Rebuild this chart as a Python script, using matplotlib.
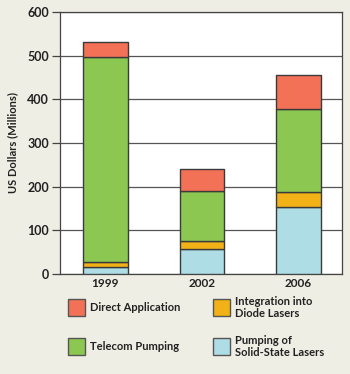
import matplotlib
matplotlib.use("Agg")
import matplotlib.pyplot as plt
from matplotlib.patches import Rectangle

plt.rcParams['font.family'] = ['Lato', 'DejaVu Sans']
plt.rcParams['font.weight'] = 'bold'
plt.rcParams['axes.labelweight'] = 'bold'

years = ['1999', '2002', '2006']
solid_state = [17, 58, 153]
diode = [11, 17, 35]
telecom = [468, 114, 190]
direct = [35, 52, 78]

series = [
    ('Pumping of\nSolid-State Lasers', solid_state, '#aedde6'),
    ('Integration into\nDiode Lasers', diode, '#f2b217'),
    ('Telecom Pumping', telecom, '#8cc751'),
    ('Direct Application', direct, '#f37157'),
]

bg = '#eeeee4'
edge = '#3a3a3a'

fig = plt.figure(figsize=(3.5, 3.74), dpi=100, facecolor=bg)
ax = fig.add_axes([60/350, 100/374, 282/350, 262/374])
ax.set_facecolor('white')

x = range(len(years))
bottom = [0] * len(years)
for name, vals, col in series:
    ax.bar(x, vals, width=0.46, bottom=bottom, color=col,
           edgecolor=edge, linewidth=1.0, zorder=3)
    bottom = [b + v for b, v in zip(bottom, vals)]

ax.set_xlim(-0.47, 2.45)
ax.set_ylim(0, 600)
ax.set_yticks(range(0, 601, 100))
ax.set_xticks(list(x))
ax.set_xticklabels(years)
ax.yaxis.grid(True, color='#555555', linewidth=0.9, zorder=1)
ax.tick_params(axis='y', length=6, width=0.9, color='#444444', pad=2,
               labelsize=9, labelcolor='#222222')
ax.tick_params(axis='x', length=0, pad=3, labelsize=8.5, labelcolor='#222222')
for s in ax.spines.values():
    s.set_color('#444444')
    s.set_linewidth(0.9)
ax.set_ylabel('US Dollars (Millions)', fontsize=8, color='#222222', labelpad=6)

# legend drawn as boxes + text in figure pixels
legend_pos = {
    'Direct Application': (68, 299),
    'Telecom Pumping': (68, 338),
    'Integration into\nDiode Lasers': (213, 299),
    'Pumping of\nSolid-State Lasers': (213, 338),
}
W, H = 350, 374
for name, vals, col in series:
    px, py = legend_pos[name]
    fig.add_artist(Rectangle((px / W, 1 - (py + 17) / H), 17 / W, 17 / H,
                             transform=fig.transFigure, facecolor=col,
                             edgecolor='#555555', linewidth=1.0))
    fig.text((px + 22) / W, 1 - (py + 8.5) / H, name, fontsize=8,
             va='center', ha='left', color='#222222', linespacing=1.1)

fig.savefig('out.png', dpi=100, facecolor=bg)
